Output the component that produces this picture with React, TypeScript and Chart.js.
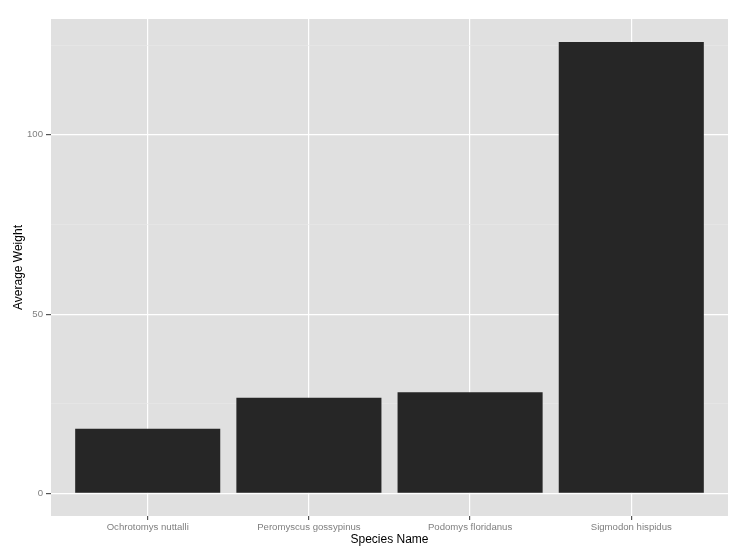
import React, { useEffect, useRef } from 'react';
import Chart from 'chart.js/auto';

// chart data
const species = ['Ochrotomys nuttalli', 'Peromyscus gossypinus', 'Podomys floridanus', 'Sigmodon hispidus'];
const avgWeight = [18.0, 26.7, 28.2, 125.9];
const yTicks = [0, 25, 50, 75, 100, 125];

const FONT = '"Liberation Sans", Arial, Helvetica, sans-serif';

// grey panel behind the plot, like ggplot's theme_grey
const panelBg = {
    id: 'panelBg',
    beforeDraw(chart: any) {
        const { ctx, chartArea } = chart;
        ctx.save();
        ctx.fillStyle = '#e0e0e0';
        ctx.fillRect(chartArea.left, chartArea.top, chartArea.right - chartArea.left, chartArea.bottom - chartArea.top);
        ctx.restore();
    },
};

const App: React.FC = () => {
    const chartRef = useRef<HTMLCanvasElement>(null);

    useEffect(() => {
        document.body.style.margin = '0';
        if (!chartRef.current) return;

        const myChart = new Chart(chartRef.current, {
            type: 'bar',
            data: {
                datasets: [{
                    label: 'Average Weight',
                    data: species.map((_, i) => ({ x: i, y: avgWeight[i] })),
                    backgroundColor: '#262626',
                    borderWidth: 0,
                    categoryPercentage: 1,
                    barPercentage: 0.9,
                }],
            },
            options: {
                animation: false,
                responsive: false,
                maintainAspectRatio: false,
                layout: { padding: { top: 19, right: 20, left: 0, bottom: 0 } },
                plugins: {
                    legend: { display: false },
                    tooltip: { enabled: false },
                },
                scales: {
                    x: {
                        type: 'linear',
                        min: -0.6,
                        max: 3.6,
                        offset: false,
                        afterBuildTicks: (scale: any) => {
                            scale.ticks = species.map((_, i) => ({ value: i }));
                        },
                        afterFit: (scale: any) => { scale.height = 42; },
                        border: { display: false },
                        grid: {
                            offset: false,
                            color: '#ffffff',
                            lineWidth: 1.2,
                            tickLength: 4,
                            tickColor: '#555555',
                        },
                        ticks: {
                            padding: 2,
                            color: '#7f7f7f',
                            font: { family: FONT, size: 9.6 },
                            maxRotation: 0,
                            autoSkip: false,
                            callback: (v: any) => species[Math.round(Number(v))] ?? '',
                        },
                        title: {
                            display: true,
                            text: 'Species Name',
                            color: '#000000',
                            font: { family: FONT, size: 12 },
                            padding: { top: 0, bottom: 11 },
                        },
                    },
                    y: {
                        min: -6.3,
                        max: 132.3,
                        afterBuildTicks: (scale: any) => {
                            scale.ticks = yTicks.map((v) => ({ value: v }));
                        },
                        afterFit: (scale: any) => { scale.width = 51; },
                        border: { display: false },
                        grid: {
                            color: (c: any) => (c.tick && c.tick.value % 50 === 0 ? '#ffffff' : '#e8e8e8'),
                            lineWidth: (c: any) => (c.tick && c.tick.value % 50 === 0 ? 1.2 : 0.6),
                            tickLength: 5,
                            tickColor: (c: any) => (c.tick && c.tick.value % 50 === 0 ? '#555555' : 'rgba(0,0,0,0)'),
                        },
                        ticks: {
                            padding: 3,
                            color: '#7f7f7f',
                            font: { family: FONT, size: 9.6 },
                            autoSkip: false,
                            callback: (v: any) => (Number(v) % 50 === 0 ? String(v) : ''),
                        },
                        title: {
                            display: true,
                            text: 'Average Weight',
                            color: '#000000',
                            font: { family: FONT, size: 12 },
                            padding: { top: 11, bottom: 0 },
                        },
                    },
                },
            },
            plugins: [panelBg],
        });

        return () => {
            myChart.destroy();
        };
    }, []);

    return (
        <div style={{ width: 748, height: 558, background: '#ffffff' }}>
            <canvas ref={chartRef} width={748} height={558} style={{ width: 748, height: 558 }} />
        </div>
    );
};

export default App;
